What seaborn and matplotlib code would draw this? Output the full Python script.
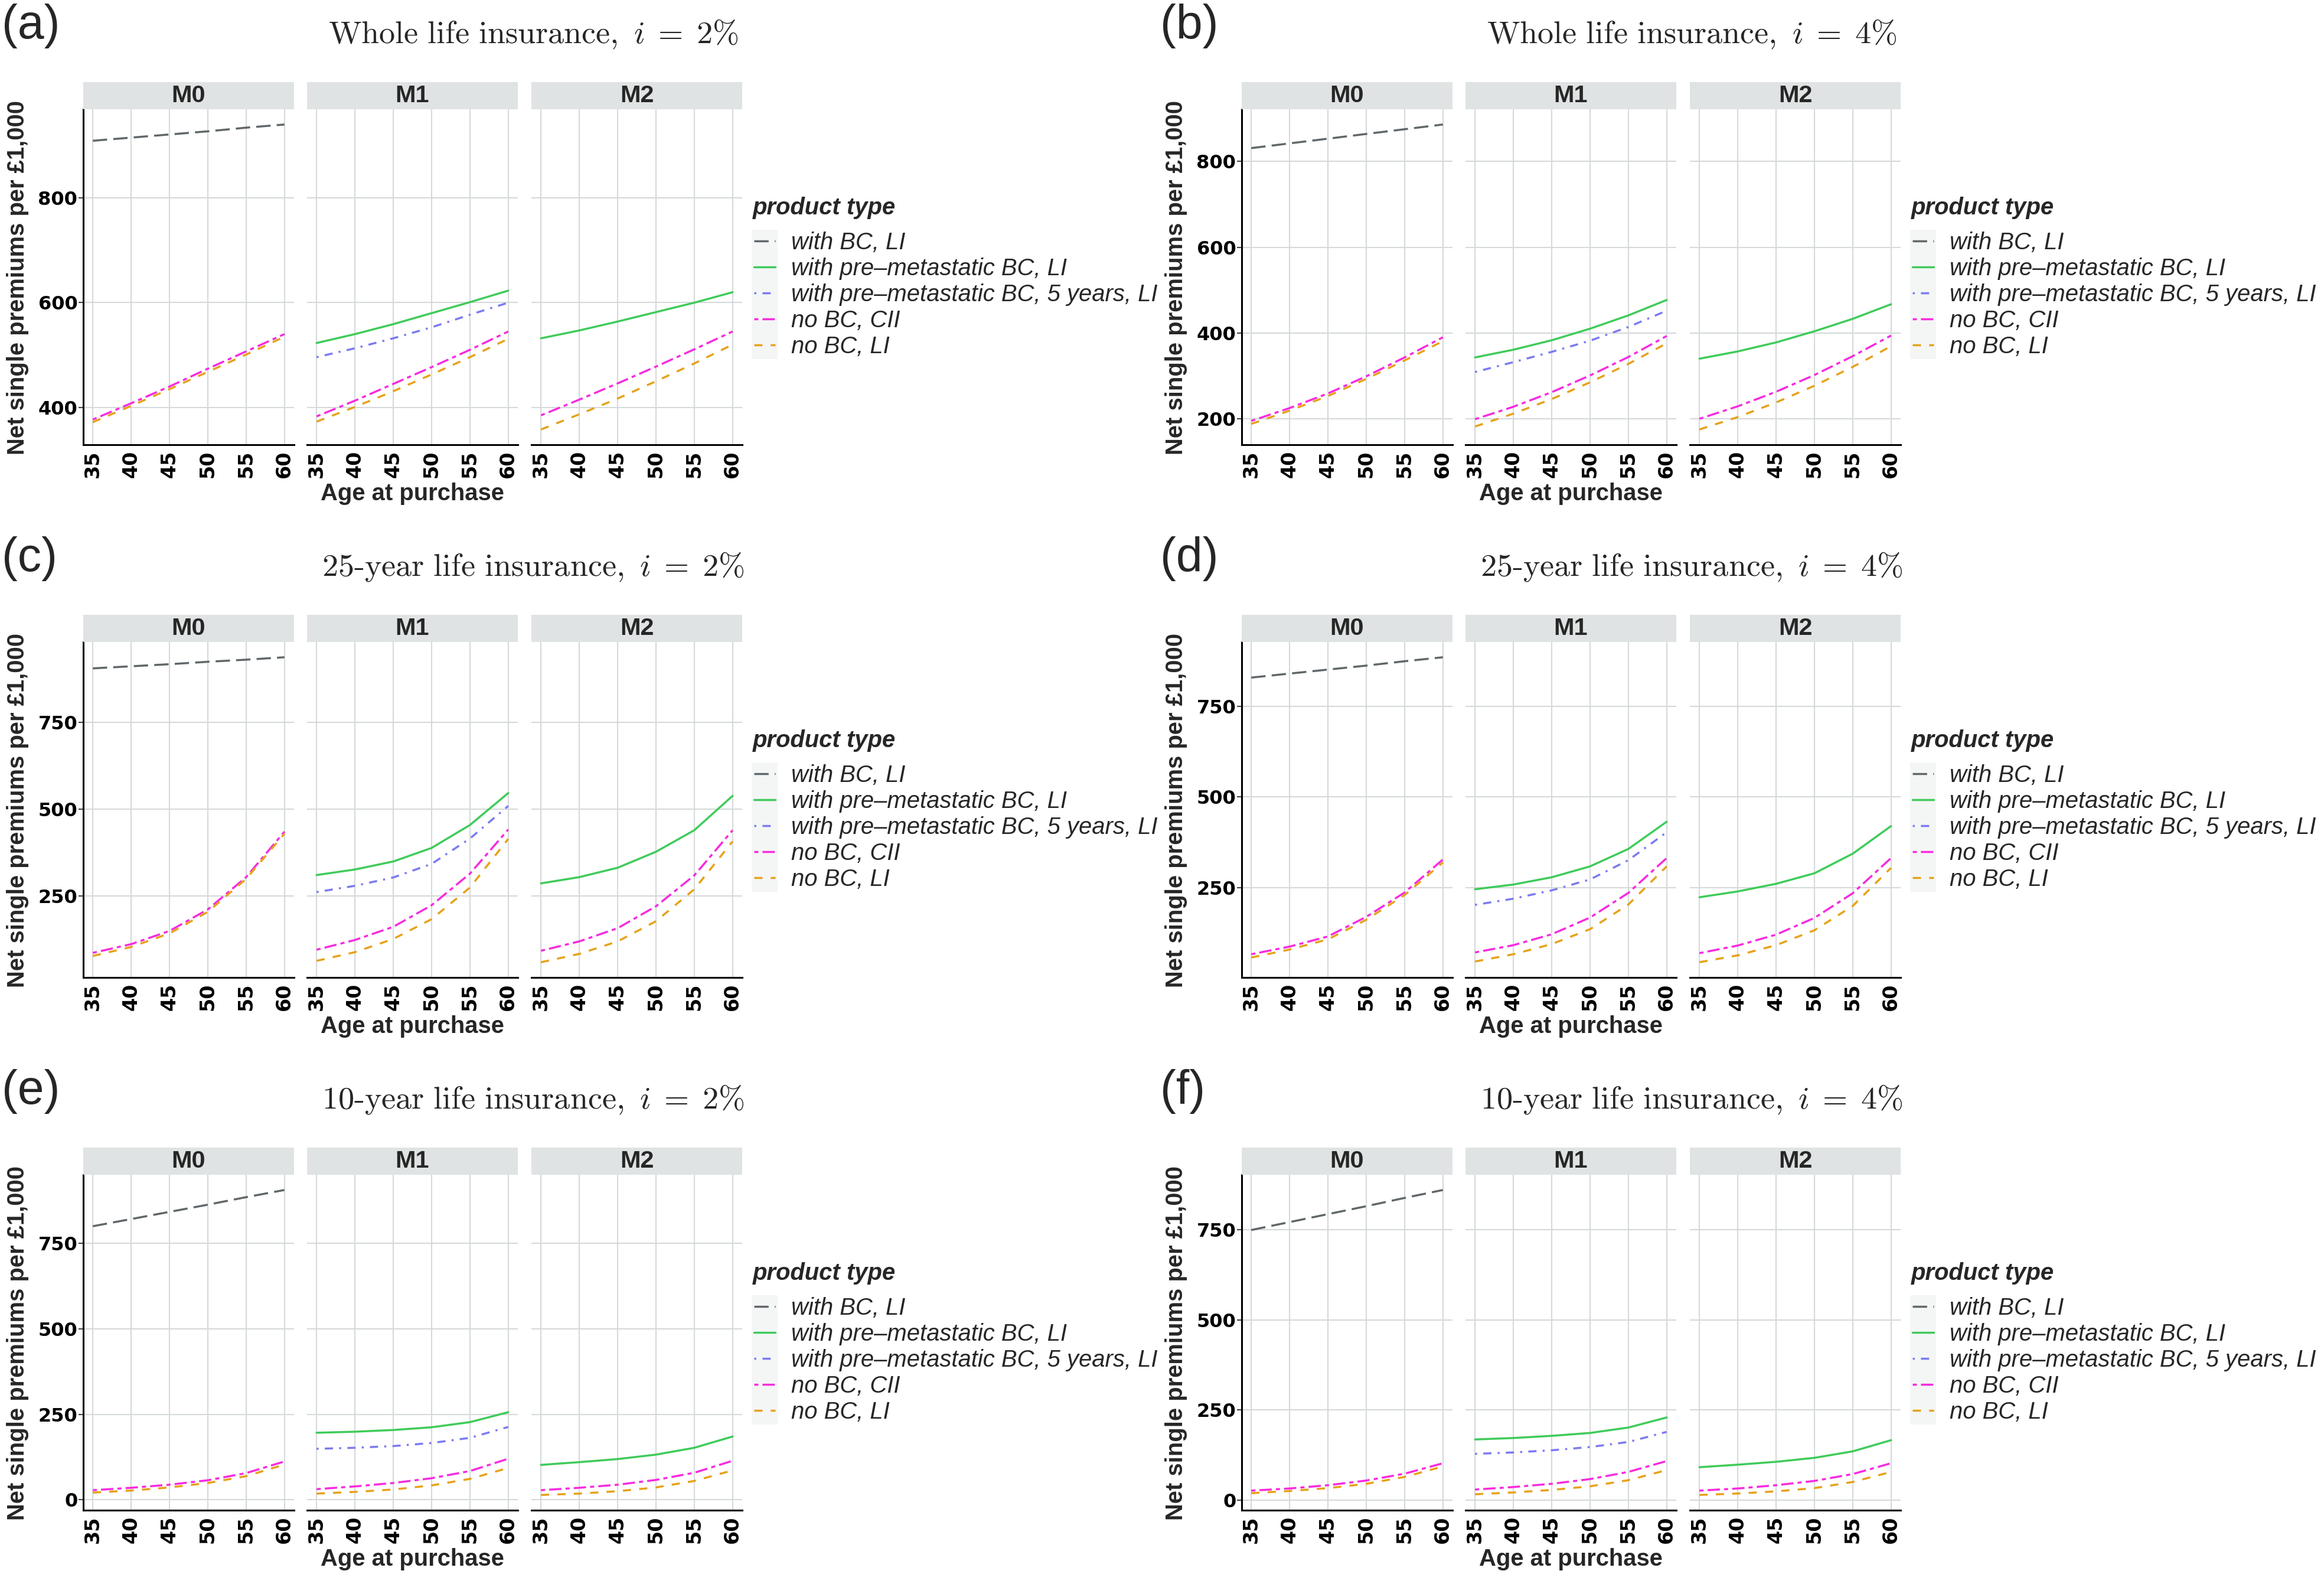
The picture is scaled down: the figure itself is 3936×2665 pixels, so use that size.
import matplotlib
matplotlib.use("Agg")
import pandas as pd
import matplotlib.pyplot as plt
from matplotlib.patches import Rectangle
import seaborn as sns

# ages at purchase and facet names
ages = [35, 40, 45, 50, 55, 60]
models = ["M0", "M1", "M2"]

BC = "with BC, LI"
PRE = "with pre\u2013metastatic BC, LI"
PRE5 = "with pre\u2013metastatic BC, 5 years, LI"
CII = "no BC, CII"
LI = "no BC, LI"
products = [BC, PRE, PRE5, CII, LI]

# (a) whole life, i = 2%
wl2_m0 = {BC: [909, 915, 921, 927, 934, 940], CII: [377, 408, 440, 474, 507, 540], LI: [372, 403, 435, 468, 501, 535]}
wl2_m1 = {PRE: [523, 540, 559, 580, 601, 623], PRE5: [496, 513, 532, 553, 577, 600],
          CII: [383, 413, 445, 477, 510, 545], LI: [373, 401, 431, 463, 496, 531]}
wl2_m2 = {PRE: [532, 547, 564, 582, 600, 620], CII: [385, 415, 446, 478, 511, 545], LI: [358, 387, 417, 450, 484, 520]}

# (b) whole life, i = 4%
wl4_m0 = {BC: [831, 842, 853, 864, 875, 886], CII: [195, 225, 259, 299, 343, 390], LI: [188, 219, 253, 293, 336, 381]}
wl4_m1 = {PRE: [343, 361, 383, 410, 441, 477], PRE5: [309, 332, 356, 382, 414, 452],
          CII: [199, 228, 262, 301, 344, 393], LI: [182, 212, 246, 285, 328, 376]}
wl4_m2 = {PRE: [340, 357, 378, 404, 433, 467], CII: [200, 229, 263, 302, 346, 394], LI: [175, 204, 238, 277, 321, 369]}

# (c) 25-year, i = 2%
t25_2_m0 = {BC: [906, 912, 918, 925, 931, 938], CII: [87, 112, 150, 212, 305, 436], LI: [78, 104, 143, 205, 300, 430]}
t25_2_m1 = {PRE: [311, 327, 350, 389, 455, 547], PRE5: [262, 280, 304, 343, 416, 510],
            CII: [96, 124, 162, 224, 315, 442], LI: [64, 89, 127, 184, 275, 415]}
t25_2_m2 = {PRE: [287, 305, 332, 378, 440, 539], CII: [93, 120, 158, 221, 310, 440], LI: [60, 84, 120, 178, 270, 408]}

# (d) 25-year, i = 4%
t25_4_m0 = {BC: [829, 840, 851, 862, 874, 885], CII: [67, 88, 116, 170, 237, 328], LI: [58, 80, 108, 162, 230, 320]}
t25_4_m1 = {PRE: [246, 259, 279, 309, 357, 432], PRE5: [203, 220, 243, 273, 326, 403],
            CII: [72, 92, 122, 168, 236, 332], LI: [47, 67, 95, 136, 204, 309]}
t25_4_m2 = {PRE: [224, 240, 261, 290, 344, 420], CII: [70, 91, 121, 167, 235, 332], LI: [45, 64, 92, 133, 200, 305]}

# (e) 10-year, i = 2%
t10_2_m0 = {BC: [800, 821, 842, 863, 885, 906], CII: [28, 35, 44, 57, 78, 112], LI: [21, 27, 36, 49, 69, 103]}
t10_2_m1 = {PRE: [196, 199, 204, 212, 227, 256], PRE5: [149, 152, 157, 166, 181, 213],
            CII: [31, 39, 49, 63, 84, 120], LI: [18, 23, 30, 42, 61, 93]}
t10_2_m2 = {PRE: [102, 110, 119, 132, 152, 185], CII: [28, 35, 44, 58, 79, 114], LI: [14, 18, 25, 36, 55, 86]}

# (f) 10-year, i = 4%
t10_4_m0 = {BC: [749, 771, 793, 815, 838, 860], CII: [26, 32, 41, 54, 73, 102], LI: [19, 25, 33, 45, 64, 93]}
t10_4_m1 = {PRE: [168, 172, 178, 186, 201, 229], PRE5: [128, 132, 138, 147, 161, 189],
            CII: [29, 36, 45, 58, 78, 108], LI: [16, 21, 28, 38, 55, 83]}
t10_4_m2 = {PRE: [91, 98, 106, 117, 135, 166], CII: [26, 32, 41, 53, 72, 102], LI: [14, 18, 24, 33, 50, 78]}

# y tick labels shown in each panel
ticks_a = [400, 600, 800]
ticks_b = [200, 400, 600, 800]
ticks_cd = [250, 500, 750]
ticks_ef = [0, 250, 500, 750]

panels = [
    ("(a)", r"$\mathrm{Whole\ life\ insurance,}\ i\;=\;2\%$", [wl2_m0, wl2_m1, wl2_m2], ticks_a),
    ("(b)", r"$\mathrm{Whole\ life\ insurance,}\ i\;=\;4\%$", [wl4_m0, wl4_m1, wl4_m2], ticks_b),
    ("(c)", r"$\mathrm{25\text{-}year\ life\ insurance,}\ i\;=\;2\%$", [t25_2_m0, t25_2_m1, t25_2_m2], ticks_cd),
    ("(d)", r"$\mathrm{25\text{-}year\ life\ insurance,}\ i\;=\;4\%$", [t25_4_m0, t25_4_m1, t25_4_m2], ticks_cd),
    ("(e)", r"$\mathrm{10\text{-}year\ life\ insurance,}\ i\;=\;2\%$", [t10_2_m0, t10_2_m1, t10_2_m2], ticks_ef),
    ("(f)", r"$\mathrm{10\text{-}year\ life\ insurance,}\ i\;=\;4\%$", [t10_4_m0, t10_4_m1, t10_4_m2], ticks_ef),
]

palette = dict(zip(products, ["#60676a", "#3fcb5a", "#7b7bf2", "#f72bdf", "#e6a21a"]))
dashes = dict(zip(products, [(7, 3), "", (1, 3, 4, 3), (2, 2, 6, 2), (4, 4)]))

sns.set_theme(style="white")
plt.rcParams["font.family"] = ["Liberation Sans", "DejaVu Sans"]
plt.rcParams["mathtext.fontset"] = "cm"

W, H = 3937, 2665
fig = plt.figure(figsize=(W / 100, H / 100), dpi=100)


def box(x0, y0, x1, y1):
    # pixel box, origin top-left -> figure rect
    return [x0 / W, 1 - y1 / H, (x1 - x0) / W, (y1 - y0) / H]


FS = 40 * 0.72
LW = 2.5

for n, (tag, title, facets, yticks) in enumerate(panels):
    ox = (n % 2) * 1962
    oy = (n // 2) * 902
    first = None
    handles = labels = None
    for k, (model, facet) in enumerate(zip(models, facets)):
        fx = ox + [141, 520, 900][k]
        ax = fig.add_axes(box(fx, oy + 185, fx + 357, oy + 753), sharey=first)
        rows = [(a, p, v) for p, vals in facet.items() for a, v in zip(ages, vals)]
        df = pd.DataFrame(rows, columns=["age", "product", "premium"])
        sns.lineplot(data=df, x="age", y="premium", hue="product", style="product",
                     hue_order=products, style_order=products, palette=palette,
                     dashes=dashes, linewidth=LW, ax=ax, legend=(k == 0))
        if k == 0:
            first = ax
            handles, labels = ax.get_legend_handles_labels()
            ax.get_legend().remove()
        ax.set_xlabel("")
        ax.set_ylabel("")
        ax.set_xticks(ages)
        ax.set_yticks(yticks)
        ax.grid(True, color="#d5d9d9", linewidth=1.5)
        ax.set_axisbelow(True)
        for s in ax.spines.values():
            s.set_visible(False)
        ax.spines["bottom"].set_visible(True)
        ax.spines["bottom"].set_color("black")
        ax.spines["bottom"].set_linewidth(2.2)
        if k == 0:
            ax.spines["left"].set_visible(True)
            ax.spines["left"].set_color("black")
            ax.spines["left"].set_linewidth(2.2)
        ax.tick_params(axis="x", length=0, pad=7, labelsize=24, rotation=90)
        ax.tick_params(axis="y", left=(k == 0), labelleft=(k == 0), length=6, width=1.5,
                       color="#444444", pad=1, labelsize=23)
        plt.setp(ax.get_xticklabels() + ax.get_yticklabels(), fontfamily="DejaVu Sans",
                 fontweight="bold", color="black")

        strip = fig.add_axes(box(fx, oy + 139, fx + 357, oy + 185))
        strip.set_facecolor("#dfe3e3")
        strip.set_xticks([])
        strip.set_yticks([])
        for s in strip.spines.values():
            s.set_visible(False)
        strip.text(0.5, 0.5, model, ha="center", va="center", fontsize=FS + 1,
                   fontweight="bold", transform=strip.transAxes)

    # data-driven y range with ggplot-like 5% padding
    first.margins(y=0.05)

    fig.text((ox + 3) / W, 1 - (oy + 6) / H, tag, fontsize=58, ha="left", va="top")
    fig.text((ox + 903) / W, 1 - (oy + 58) / H, title, fontsize=39, ha="center", va="center")
    fig.text((ox + 698) / W, 1 - (oy + 836) / H, "Age at purchase", fontsize=FS,
             fontweight="bold", ha="center", va="center")
    fig.text((ox + 30) / W, 1 - (oy + 470) / H, "Net single premiums per \u00a31,000",
             fontsize=FS, fontweight="bold", ha="center", va="center", rotation=90)

    # legend: title, grey key panel, entries
    fig.text((ox + 1275) / W, 1 - (oy + 352) / H, "product type", fontsize=FS,
             fontweight="bold", fontstyle="italic", ha="left", va="center")
    fig.add_artist(Rectangle(((ox + 1273) / W, 1 - (oy + 608) / H), 44 / W, 219 / H,
                             transform=fig.transFigure, facecolor="#f4f6f6",
                             edgecolor="none", zorder=0))
    for h in handles:
        h.set_linewidth(LW)
    fig.legend(handles, labels, loc="upper left",
               bbox_to_anchor=((ox + 1277) / W, 1 - (oy + 392) / H),
               frameon=False, prop={"style": "italic", "size": FS},
               handlelength=0.9, handletextpad=0.675, labelspacing=0.15,
               borderpad=0, borderaxespad=0)

fig.savefig("out.png", dpi=100)
